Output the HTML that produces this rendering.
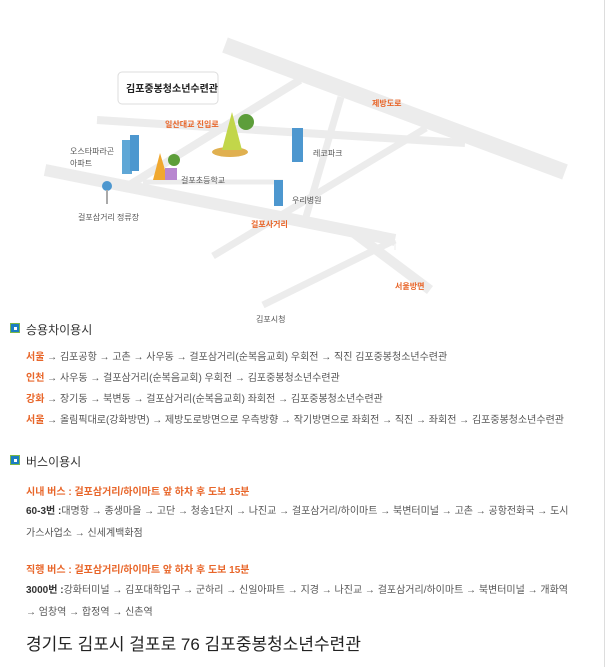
<!DOCTYPE html>
<html><head><meta charset="utf-8"><style>
body{margin:0;width:607px;height:667px;background:#fff;position:relative;overflow:hidden;font-family:"Liberation Sans","Noto Sans CJK KR",sans-serif;color:#555}
.a{position:absolute;white-space:nowrap}
.o{color:#e8662a;font-weight:bold}
.t{font-size:10px}
.h{font-size:12px;color:#333}
.ic{position:absolute;width:10px;height:10px;background:#1a7ec2;border:1px solid #7ab648;box-sizing:border-box}
.ic:after{content:"";position:absolute;left:3px;top:3px;width:3px;height:3px;background:#fff}
b{color:#333}
</style></head><body>
<div class="a" style="left:604px;top:0;width:1px;height:667px;background:#ddd"></div>
<svg class="a" style="left:0;top:0" width="607" height="330">
<g stroke="#ececec" stroke-linecap="butt" fill="none">
<path d="M225 45 L565 172" stroke-width="16"/>
<path d="M97 120 L465 143" stroke-width="8"/>
<path d="M45 170 L395 240" stroke-width="12"/>
<path d="M395 240 L395 250" stroke-width="1"/>
<path d="M128 186 L300 80" stroke-width="8"/>
<path d="M341 97 L306 217" stroke-width="7"/>
<path d="M213 256 L426 128" stroke-width="7"/>
<path d="M263 305 L395 240" stroke-width="7"/>
<path d="M350 230 L430 290" stroke-width="10"/>
<path d="M143 182 L283 182" stroke-width="5"/>
</g>
<rect x="118" y="72" width="100" height="32" rx="4" fill="#fff" stroke="#ddd"/>
<rect x="122" y="140" width="10" height="34" fill="#5fa7d6"/><rect x="130" y="135" width="9" height="36" fill="#4d97cf"/>
<rect x="292" y="128" width="11" height="34" fill="#4d97cf"/><rect x="274" y="180" width="9" height="26" fill="#4d97cf"/>
<ellipse cx="230" cy="152" rx="18" ry="5" fill="#e0b050"/><path d="M222 150 L232 112 L242 150Z" fill="#c2d64a"/><circle cx="246" cy="122" r="8" fill="#5d9e3a"/>
<path d="M153 180 L160 153 L168 180Z" fill="#f0a830"/><rect x="165" y="168" width="12" height="12" fill="#b886d0"/><circle cx="174" cy="160" r="6" fill="#5d9e3a"/>
<circle cx="107" cy="186" r="5" fill="#4d97cf"/><rect x="106" y="190" width="2" height="14" fill="#aaa"/>
</svg>
<div class="a" style="left:126px;top:80px;font-size:10px;font-weight:bold;color:#222">김포중봉청소년수련관</div>
<div class="a o" style="left:165px;top:119px;font-size:8px">일산대교 진입로</div>
<div class="a o" style="left:372px;top:98px;font-size:8px">제방도로</div>
<div class="a" style="left:70px;top:146px;font-size:8px;line-height:12px">오스타파라곤<br>아파트</div>
<div class="a" style="left:313px;top:148px;font-size:8px">레코파크</div>
<div class="a" style="left:181px;top:175px;font-size:8px">걸포초등학교</div>
<div class="a" style="left:292px;top:195px;font-size:8px">우리병원</div>
<div class="a" style="left:78px;top:212px;font-size:8px">걸포삼거리 정류장</div>
<div class="a o" style="left:251px;top:219px;font-size:8px">걸포사거리</div>
<div class="a o" style="left:395px;top:281px;font-size:8px">서울방면</div>
<div class="a" style="left:256px;top:314px;font-size:8px">김포시청</div>

<div class="ic" style="left:10px;top:323px"></div><div class="a h" style="left:26px;top:321px">승용차이용시</div>
<div class="a t" style="left:26px;top:348px"><span class="o">서울</span> → 김포공항 → 고촌 → 사우동 → 걸포삼거리(순복음교회) 우회전 → 직진 김포중봉청소년수련관</div>
<div class="a t" style="left:26px;top:369px"><span class="o">인천</span> → 사우동 → 걸포삼거리(순복음교회) 우회전 → 김포중봉청소년수련관</div>
<div class="a t" style="left:26px;top:390px"><span class="o">강화</span> → 장기동 → 북변동 → 걸포삼거리(순복음교회) 좌회전 → 김포중봉청소년수련관</div>
<div class="a t" style="left:26px;top:411px"><span class="o">서울</span> → 올림픽대로(강화방면) → 제방도로방면으로 우측방향 → 작기방면으로 좌회전 → 직진 → 좌회전 → 김포중봉청소년수련관</div>

<div class="ic" style="left:10px;top:455px"></div><div class="a h" style="left:26px;top:453px">버스이용시</div>
<div class="a t o" style="left:26px;top:483px">시내 버스 : 걸포삼거리/하이마트 앞 하차 후 도보 15분</div>
<div class="a t" style="left:26px;top:502px"><b>60-3번 :</b>대명항 → 종생마을 → 고단 → 청송1단지 → 나진교 → 걸포삼거리/하이마트 → 북변터미널 → 고촌 → 공항전화국 → 도시</div>
<div class="a t" style="left:26px;top:524px">가스사업소 → 신세계백화점</div>
<div class="a t o" style="left:26px;top:561px">직행 버스 : 걸포삼거리/하이마트 앞 하차 후 도보 15분</div>
<div class="a t" style="left:26px;top:581px"><b>3000번 :</b>강화터미널 → 김포대학입구 → 군하리 → 신일아파트 → 지경 → 나진교 → 걸포삼거리/하이마트 → 북변터미널 → 개화역</div>
<div class="a t" style="left:26px;top:603px">→ 엄창역 → 합정역 → 신촌역</div>
<div class="a" style="left:26px;top:630px;font-size:17px;color:#222">경기도 김포시 걸포로 76 김포중봉청소년수련관</div>
</body></html>
